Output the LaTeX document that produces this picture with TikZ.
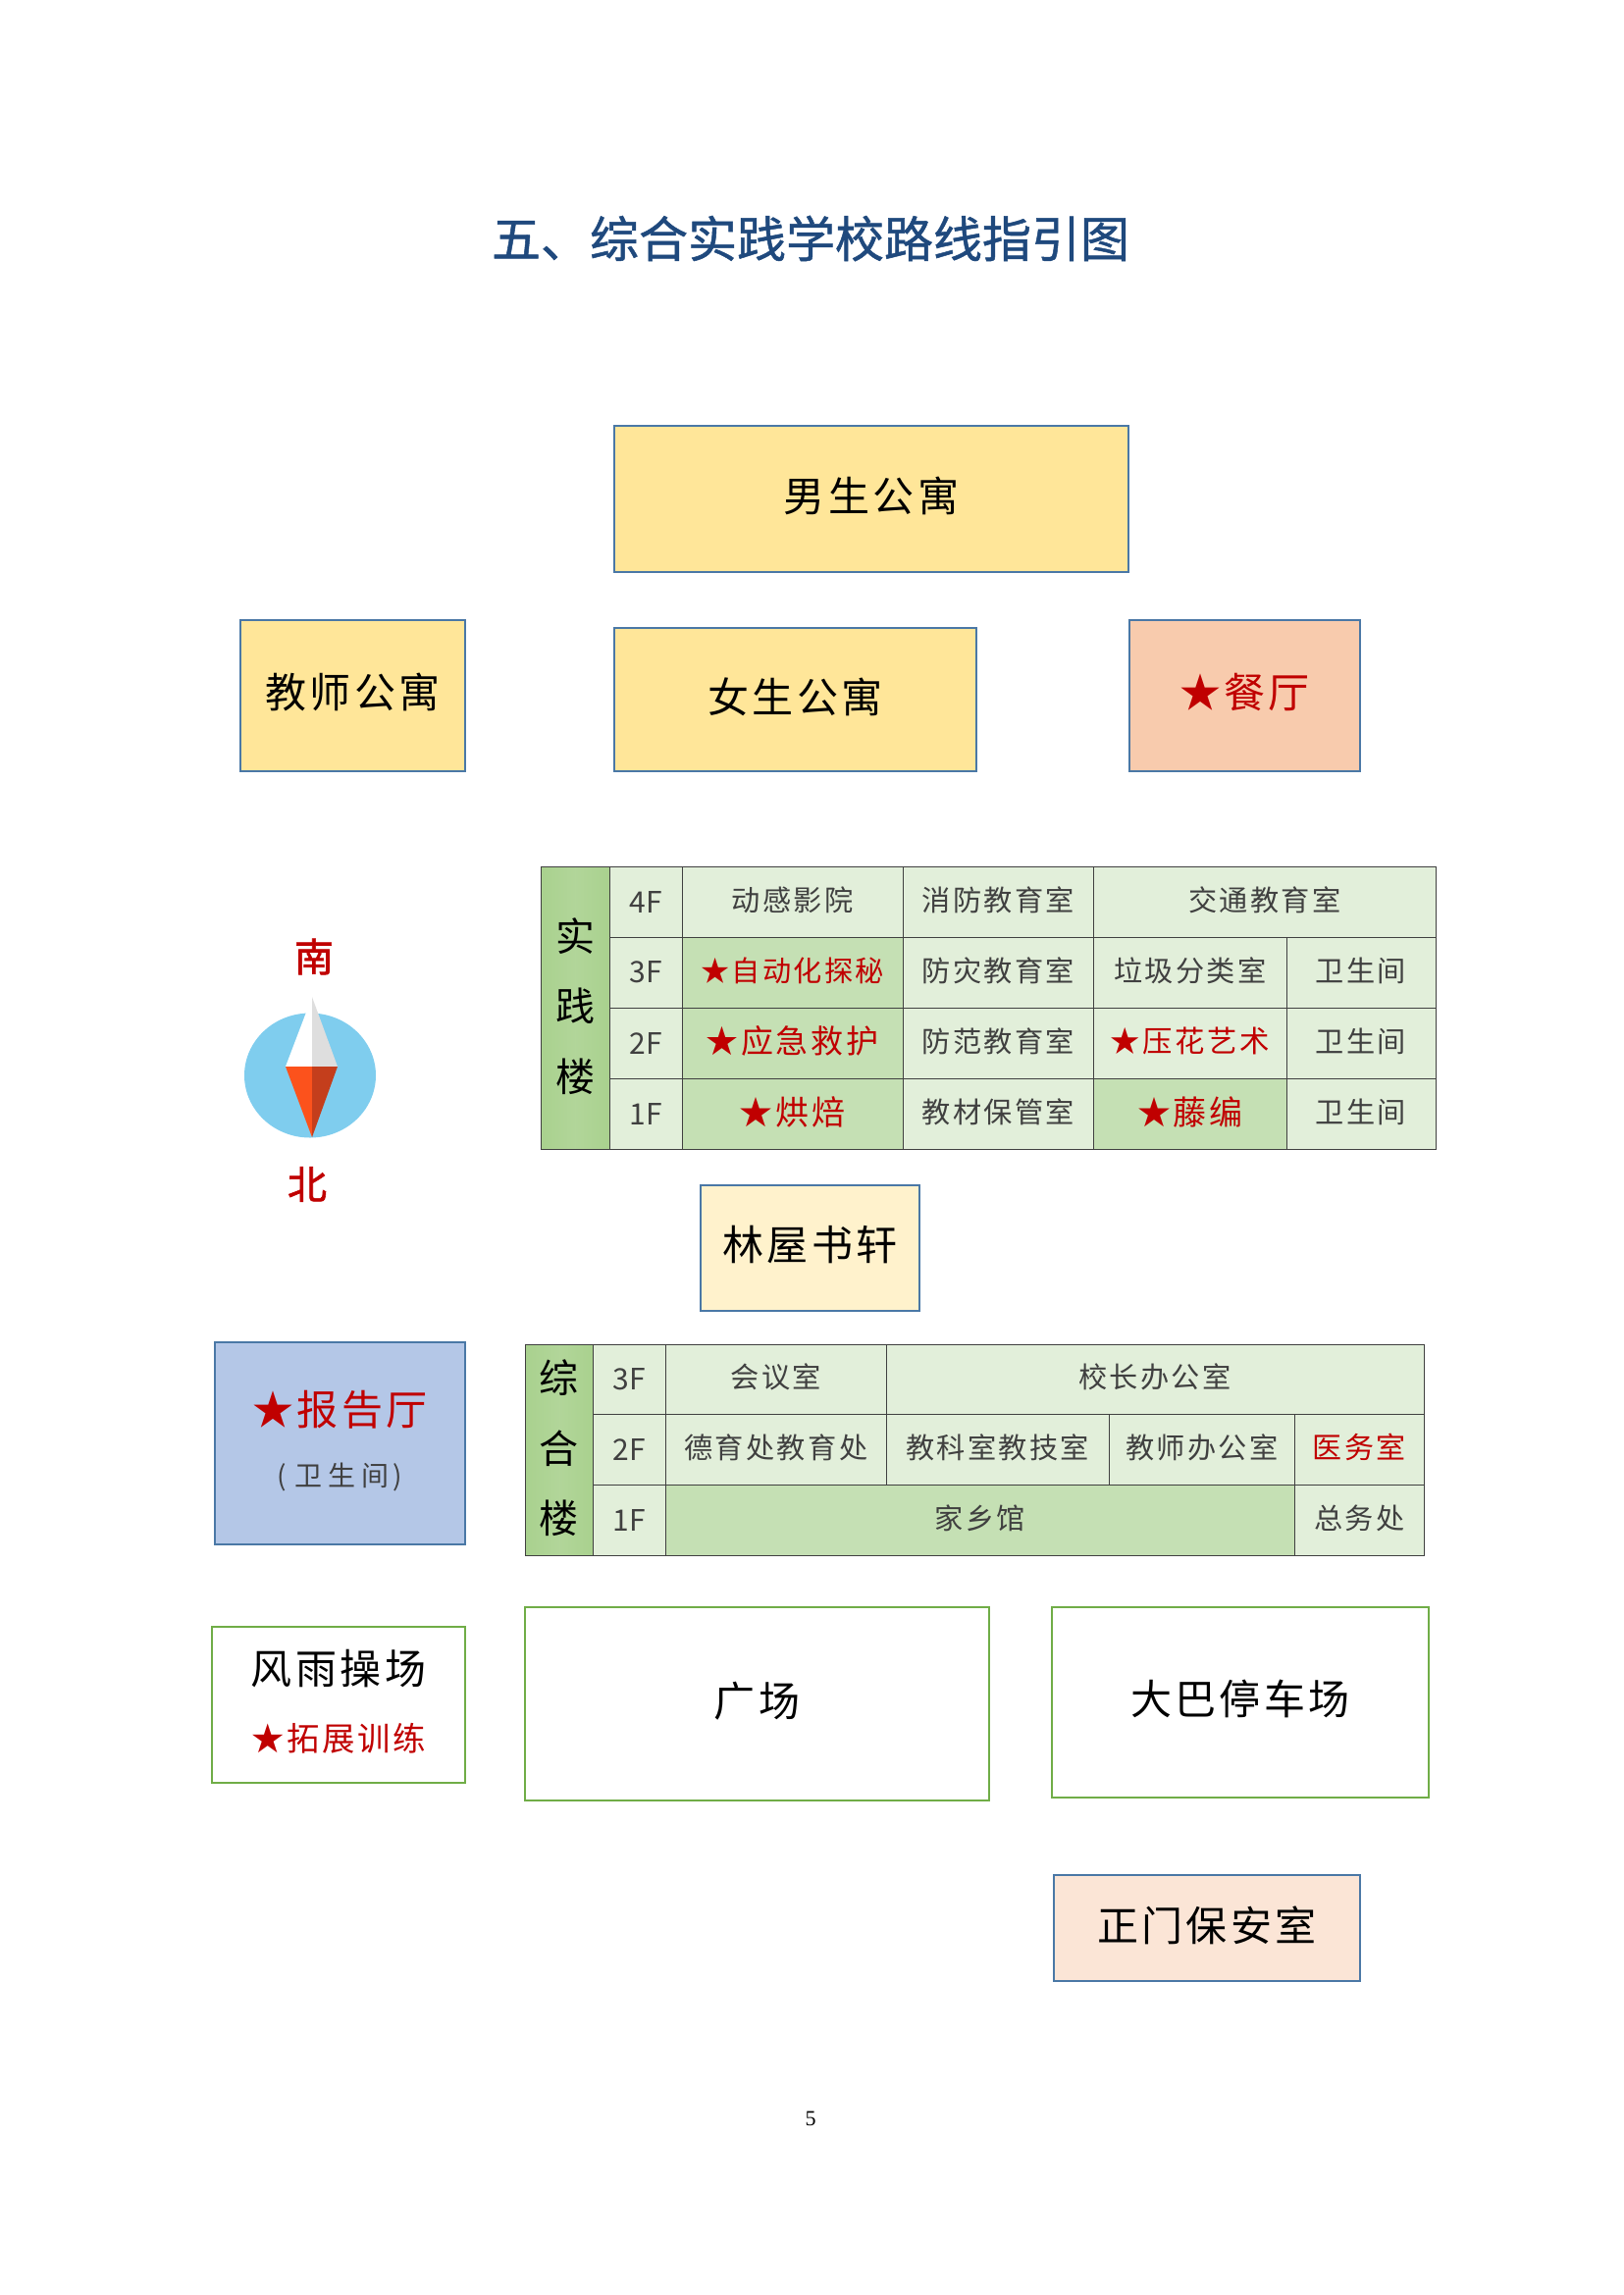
\documentclass[tikz,border=0pt]{standalone}
\usepackage{fontspec}
\setmainfont{Liberation Serif}
\newfontfamily\cjk{Noto Sans CJK SC}
\newfontfamily\cjkw[LetterSpace=8]{Noto Sans CJK SC}
\newfontfamily\cjkww[LetterSpace=22]{Noto Sans CJK SC}
\newfontfamily\cjkt[FakeBold=1]{Noto Sans CJK SC}
\newfontfamily\cjkc[FakeBold=1.6]{Noto Sans CJK SC}
\definecolor{titleblue}{HTML}{1F497D}
\definecolor{starred}{HTML}{C00000}
\definecolor{roomtext}{HTML}{404040}
\definecolor{lightcell}{HTML}{E2EFDA}
\definecolor{darkcell}{HTML}{C5E0B4}
\definecolor{headcell}{HTML}{A9D18E}
\definecolor{gridline}{HTML}{404040}
\definecolor{yellowbox}{HTML}{FFE699}
\definecolor{paleyellow}{HTML}{FFF2CC}
\definecolor{salmonbox}{HTML}{F8CBAD}
\definecolor{palesalmon}{HTML}{FBE5D6}
\definecolor{bluebox}{HTML}{B4C7E7}
\definecolor{boxedge}{HTML}{4A78A6}
\definecolor{greenedge}{HTML}{70AD47}
\definecolor{dialblue}{RGB}{127,205,238}
\definecolor{needlered}{RGB}{252,82,28}
\definecolor{needledark}{RGB}{196,62,28}
\definecolor{needlegrey}{RGB}{222,222,222}
\newcommand\rr[1]{\textcolor{starred}{#1}}
\newcommand\bx[7][]{\node[#6,#1,minimum width={(#4-#2)*0.5pt},minimum height={(#5-#3)*0.5pt}] at ({(#2+#4)/2},{(#3+#5)/2}) #7;}
\tikzset{
 base/.style={draw,inner sep=0pt,outer sep=0pt,align=center,font=\cjkw},
 bigbox/.style={base,line width=0.9pt,draw=boxedge,font=\cjkw\fontsize{21}{25}\selectfont,text=black,execute at end node={\rule[-4.8pt]{0pt}{4.8pt}}},
 greenbox/.style={bigbox,draw=greenedge,fill=white},
 cellbase/.style={base,line width=0.45pt,draw=gridline,text=roomtext,font=\cjkw\fontsize{14.6}{17}\selectfont,execute at end node={\rule[-3.2pt]{0pt}{3.2pt}}},
 room/.style={cellbase,fill=lightcell},
 hot/.style={cellbase,fill=darkcell},
 floorcell/.style={base,line width=0.45pt,draw=gridline,text=roomtext,fill=lightcell,font=\cjk\fontsize{15}{17}\selectfont},
 head/.style={cellbase,shade,left color=headcell,right color=headcell,middle color=headcell!90!white,text=black,font=\cjk\fontsize{20}{#1}\selectfont},
 redbig/.style={font=\cjkw\fontsize{#1}{20}\selectfont,text=starred},
 compasslabel/.style={inner sep=0pt,text=starred,font=\cjkc\fontsize{20}{24}\selectfont},
}
\begin{document}
\begin{tikzpicture}[x=0.5pt,y=-0.5pt]
\useasboundingbox (0,0) rectangle (1654,2339);
\node[inner sep=0pt,text=titleblue,font=\cjkt\fontsize{25}{30}\selectfont] (title) at (826,243) {五、综合实践学校路线指引图};
\bx{626}{434}{1150}{583}{bigbox,fill=yellowbox}{(boys) {男生公寓}}
\bx{626}{640}{995}{786}{bigbox,fill=yellowbox}{(girls) {女生公寓}}
\bx{245}{632}{474}{786}{bigbox,fill=yellowbox}{(teachers) {教师公寓}}
\bx{1151}{632}{1386}{786}{bigbox,fill=salmonbox}{(canteen) {\rr{★餐厅}}}
\bx{714}{1208}{937}{1336}{bigbox,fill=paleyellow}{(library) {林屋书轩}}
\bx{219}{1368}{474}{1574}{bigbox,fill=bluebox}{(hall) {\rr{★报告厅}\\[6pt]{\cjkww\color{roomtext}\fontsize{14}{17}\selectfont(\hspace{4pt}卫生间\hspace{2pt})}}}
\bx{216}{1658}{474}{1817}{greenbox}{(gym) {风雨操场\\[9pt]{\color{starred}\fontsize{16.7}{20}\selectfont ★拓展训练}}}
\bx{535}{1638}{1008}{1835}{greenbox}{(square) {广场}}
\bx{1072}{1638}{1456}{1832}{greenbox}{(bus) {大巴停车场}}
\bx{1074}{1911}{1386}{2019}{bigbox,fill=palesalmon}{(gate) {正门保安室}}
% practice building
\bx{551.5}{883}{621}{1171}{head=35.8pt}{(pa) {实\\践\\楼}}
\bx{621}{883}{695}{955}{floorcell}{(p4f) {4F}}
\bx{621}{955}{695}{1027}{floorcell}{(p3f) {3F}}
\bx{621}{1027}{695}{1099}{floorcell}{(p2f) {2F}}
\bx{621}{1099}{695}{1171}{floorcell}{(p1f) {1F}}
\bx{695}{883}{920}{955}{room}{(p41) {动感影院}}
\bx{920}{883}{1114.5}{955}{room}{(p42) {消防教育室}}
\bx{1114.5}{883}{1463}{955}{room}{(p43) {交通教育室}}
\bx{695}{955}{920}{1027}{hot}{(p31) {\rr{★自动化探秘}}}
\bx{920}{955}{1114.5}{1027}{room}{(p32) {防灾教育室}}
\bx{1114.5}{955}{1311}{1027}{room}{(p33) {垃圾分类室}}
\bx{1311}{955}{1463}{1027}{room}{(p34) {卫生间}}
\bx{695}{1027}{920}{1099}{hot,redbig=16.5}{(p21) {★应急救护}}
\bx{920}{1027}{1114.5}{1099}{room}{(p22) {防范教育室}}
\bx{1114.5}{1027}{1311}{1099}{room,redbig=15.2}{(p23) {★压花艺术}}
\bx{1311}{1027}{1463}{1099}{room}{(p24) {卫生间}}
\bx{695}{1099}{920}{1171}{hot,redbig=17}{(p11) {★烘焙}}
\bx{920}{1099}{1114.5}{1171}{room}{(p12) {教材保管室}}
\bx{1114.5}{1099}{1311}{1171}{hot,redbig=17}{(p13) {★藤编}}
\bx{1311}{1099}{1463}{1171}{room}{(p14) {卫生间}}
% admin building
\bx{535}{1370}{604.5}{1585}{head=35.8pt}{(za) {综\\合\\楼}}
\bx{604.5}{1370}{678.5}{1441}{floorcell}{(z3f) {3F}}
\bx{604.5}{1441}{678.5}{1513}{floorcell}{(z2f) {2F}}
\bx{604.5}{1513}{678.5}{1585}{floorcell}{(z1f) {1F}}
\bx{678.5}{1370}{903}{1441}{room}{(z31) {会议室}}
\bx{903}{1370}{1451}{1441}{room}{(z32) {校长办公室}}
\bx{678.5}{1441}{903}{1513}{room}{(z21) {德育处教育处}}
\bx{903}{1441}{1130}{1513}{room}{(z22) {教科室教技室}}
\bx{1130}{1441}{1319.5}{1513}{room}{(z23) {教师办公室}}
\bx{1319.5}{1441}{1451}{1513}{room,redbig=15}{(z24) {医务室}}
\bx{678.5}{1513}{1319.5}{1585}{hot}{(z11) {家乡馆}}
\bx{1319.5}{1513}{1451}{1585}{room}{(z12) {总务处}}
% compass
\fill[dialblue] (316,1096) ellipse [x radius=67,y radius=63.5];
\fill[white] (318,1016) -- (291,1087) -- (318,1087) -- cycle;
\fill[needlegrey] (318,1016) -- (344,1087) -- (318,1087) -- cycle;
\fill[needlered] (318,1159) -- (291,1087) -- (318,1087) -- cycle;
\fill[needledark] (318,1159) -- (344,1087) -- (318,1087) -- cycle;
\node[compasslabel] (south) at (320,975) {南};
\node[compasslabel] (north) at (313,1207) {北};
\node[inner sep=0pt,font=\fontsize{11}{13}\selectfont] (page) at (826,2159) {5};
\end{tikzpicture}
\end{document}
